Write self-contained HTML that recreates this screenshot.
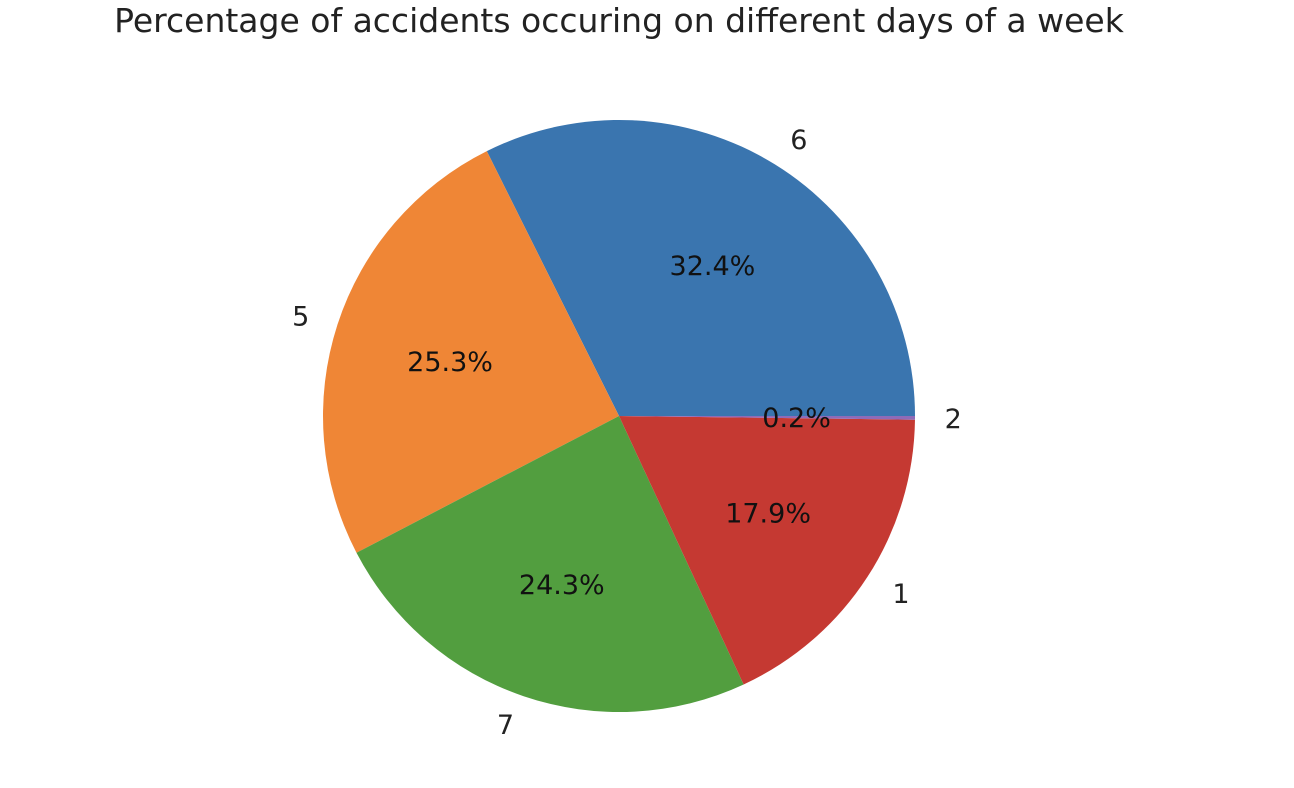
<!DOCTYPE html>
<html><head><meta charset="utf-8"><style>
html,body{margin:0;padding:0;background:#fff;}
svg{display:block;font-family:"DejaVu Sans","Liberation Sans",sans-serif;}
</style></head><body>
<svg id="chart" width="1294" height="788" viewBox="0 0 1294 788">
<text x="619" y="32" text-anchor="middle" font-size="33" fill="#222">Percentage of accidents occuring on different days of a week</text>
<g id="slices"></g>
</svg>
<script>
const categories = ["6", "5", "7", "1", "2"];
const values = [32.4, 25.3, 24.3, 17.9, 0.2];
const colors = ["#3a75af", "#ef8636", "#529e3f", "#c53932", "#8e6bb8"];
const cx = 619, cy = 416, R = 296;
const g = document.getElementById('slices');
const ns = 'http://www.w3.org/2000/svg';
const total = values.reduce((a,b)=>a+b,0);
function pt(angDeg, r){ const a = angDeg*Math.PI/180; return [cx + r*Math.cos(a), cy - r*Math.sin(a)]; }
let start = 0;
values.forEach((v,i)=>{
  const sweep = v/total*360;
  const end = start + sweep;
  const [x1,y1] = pt(start,R), [x2,y2] = pt(end,R);
  const large = sweep > 180 ? 1 : 0;
  const p = document.createElementNS(ns,'path');
  p.setAttribute('d', `M${cx},${cy} L${x1},${y1} A${R},${R} 0 ${large} 0 ${x2},${y2} Z`);
  p.setAttribute('fill', colors[i]);
  
  
  g.appendChild(p);
  const mid = start + sweep/2;
  const [lx,ly] = pt(mid, R*1.1);
  const t = document.createElementNS(ns,'text');
  t.setAttribute('x', lx); t.setAttribute('y', ly + 10);
  t.setAttribute('text-anchor', Math.cos(mid*Math.PI/180) >= 0 ? 'start' : 'end');
  t.setAttribute('font-size', '27'); t.setAttribute('fill', '#222');
  t.textContent = categories[i];
  
  
  g.appendChild(t);
  const [px,py] = pt(mid, R*0.6);
  const pt2 = document.createElementNS(ns,'text');
  pt2.setAttribute('x', px); pt2.setAttribute('y', py + 10);
  pt2.setAttribute('text-anchor', 'middle');
  pt2.setAttribute('font-size', '27'); pt2.setAttribute('fill', '#111');
  pt2.textContent = v.toFixed(1) + '%';
  
  
  g.appendChild(pt2);
  start = end;
});
</script>
</body></html>
